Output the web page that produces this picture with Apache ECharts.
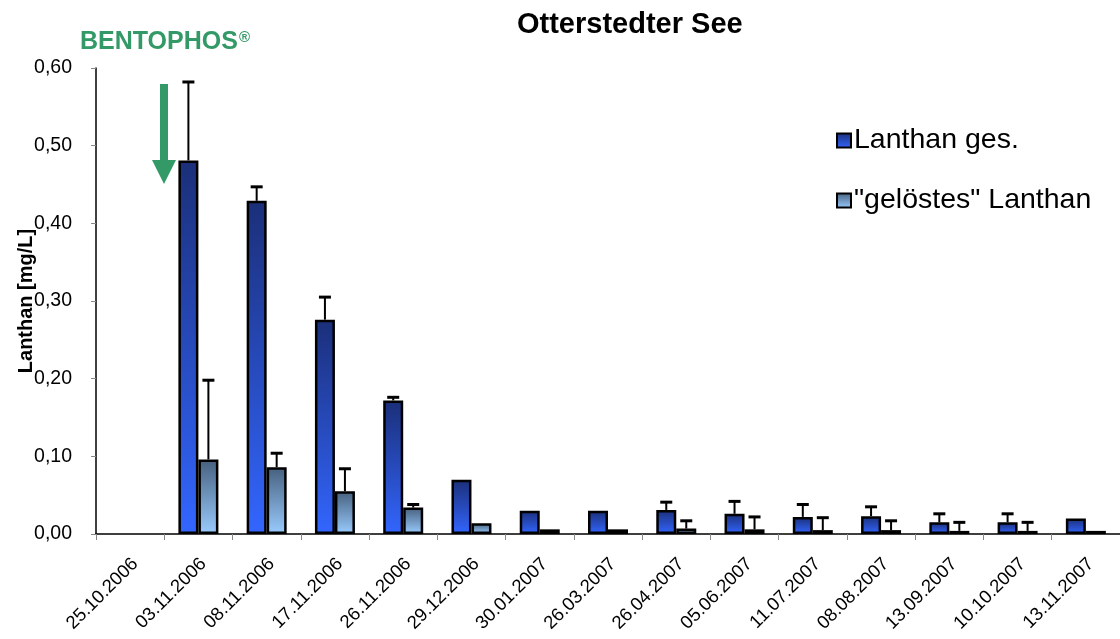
<!DOCTYPE html>
<html>
<head>
<meta charset="utf-8">
<script src="https://cdn.jsdelivr.net/npm/echarts@6/dist/echarts.min.js"></script>
<style>
  html, body { margin: 0; padding: 0; background: #fff; }
  #chart { width: 1120px; height: 639px; }
</style>
</head>
<body>
<div id="chart"></div>
<script>
// Sampling dates
const categories = ['25.10.2006', '03.11.2006', '08.11.2006', '17.11.2006', '26.11.2006',
  '29.12.2006', '30.01.2007', '26.03.2007', '26.04.2007', '05.06.2007', '11.07.2007',
  '08.08.2007', '13.09.2007', '10.10.2007', '13.11.2007'];

// Total lanthanum [mg/L] and its standard deviation
const lanthanGes = [null, 0.481, 0.429, 0.276, 0.172, 0.070, 0.030, 0.030, 0.031, 0.026, 0.022, 0.023, 0.015, 0.015, 0.020];
const lanthanGesErr = [0, 0.101, 0.018, 0.029, 0.004, 0, 0, 0, 0.010, 0.016, 0.016, 0.012, 0.011, 0.011, 0];

// "Dissolved" lanthanum [mg/L] and its standard deviation
const lanthanGeloest = [null, 0.096, 0.086, 0.055, 0.034, 0.014, 0.006, 0.006, 0.007, 0.006, 0.005, 0.005, 0.004, 0.004, 0.004];
const lanthanGeloestErr = [0, 0.102, 0.018, 0.029, 0.004, 0, 0, 0, 0.010, 0.016, 0.016, 0.012, 0.011, 0.011, 0];

const yTicks = [0, 0.1, 0.2, 0.3, 0.4, 0.5, 0.6];

const FONT = '"Liberation Sans", Arial, sans-serif';
const BAR_W = 20;
const CAP = 6;

const gradGes = new echarts.graphic.LinearGradient(0, 0, 0, 1, [
  { offset: 0, color: '#1b2f79' },
  { offset: 1, color: '#3366ff' }
]);
const gradGeloest = new echarts.graphic.LinearGradient(0, 0, 0, 1, [
  { offset: 0, color: '#46607e' },
  { offset: 1, color: '#9accff' }
]);

// Upward-only error bars centred on the left (-1) or right (+1) bar of each pair
function errorBars(side) {
  return function (params, api) {
    const v = api.value(1);
    const e = api.value(2);
    if (v == null || isNaN(v) || !e) return;
    const base = api.coord([api.value(0), v]);
    const top = api.coord([api.value(0), v + e]);
    const x = base[0] + side * BAR_W / 2;
    return {
      type: 'group',
      children: [
        { type: 'line', shape: { x1: x, y1: base[1], x2: x, y2: top[1] }, style: { stroke: '#000', lineWidth: 2 } },
        { type: 'line', shape: { x1: x - CAP, y1: top[1], x2: x + CAP, y2: top[1] }, style: { stroke: '#000', lineWidth: 3 } }
      ]
    };
  };
}

const chart = echarts.init(document.getElementById('chart'));
chart.setOption({
  animation: false,
  backgroundColor: '#fff',
  textStyle: { fontFamily: FONT },
  title: {
    text: 'Otterstedter See',
    left: 512,
    top: 5,
    textStyle: { fontFamily: FONT, fontSize: 29, fontWeight: 'bold', color: '#000' }
  },
  legend: {
    orient: 'vertical',
    left: 831,
    top: 121,
    itemGap: 31,
    itemWidth: 14,
    itemHeight: 14,
    icon: 'rect',
    data: ['Lanthan ges.', '"gelöstes" Lanthan'],
    textStyle: { fontFamily: FONT, fontSize: 28.5, color: '#000', padding: [0, 0, 0, -2] }
  },
  grid: { left: 96, right: 0, top: 68, bottom: 105, containLabel: false, outerBoundsMode: 'none' },
  xAxis: {
    type: 'category',
    data: categories,
    axisLine: { lineStyle: { color: '#000', width: 1.5 } },
    axisTick: { show: true, length: 6, lineStyle: { color: '#888' } },
    axisLabel: {
      rotate: 45, fontFamily: FONT, fontSize: 18.5, color: '#000', margin: 32, interval: 0,
      padding: [0, -7, 0, 0]
    }
  },
  yAxis: {
    type: 'value',
    min: yTicks[0],
    max: yTicks[yTicks.length - 1],
    interval: 0.1,
    name: 'Lanthan [mg/L]',
    nameLocation: 'middle',
    nameGap: 60,
    nameMoveOverlap: false,
    nameTextStyle: { fontFamily: FONT, fontSize: 20, fontWeight: 'bold', color: '#000' },
    splitLine: { show: false },
    axisLine: { show: true, lineStyle: { color: '#000', width: 1.5 } },
    axisTick: { show: true, length: 5, lineStyle: { color: '#888' } },
    axisLabel: {
      fontFamily: FONT, fontSize: 19.5, color: '#000', margin: 24,
      formatter: v => v.toFixed(2).replace('.', ',')
    }
  },
  series: [
    {
      name: 'Lanthan ges.',
      type: 'bar',
      data: lanthanGes,
      barWidth: BAR_W,
      barGap: '0%',
      itemStyle: { color: gradGes, borderColor: '#000', borderWidth: 2.5 }
    },
    {
      name: '"gelöstes" Lanthan',
      type: 'bar',
      data: lanthanGeloest,
      barWidth: BAR_W,
      barGap: '0%',
      itemStyle: { color: gradGeloest, borderColor: '#000', borderWidth: 2.5 }
    },
    {
      name: 'err-ges',
      type: 'custom',
      z: 5,
      renderItem: errorBars(-1),
      data: categories.map((c, i) => [i, lanthanGes[i], lanthanGesErr[i]])
    },
    {
      name: 'err-geloest',
      type: 'custom',
      z: 5,
      renderItem: errorBars(1),
      data: categories.map((c, i) => [i, lanthanGeloest[i], lanthanGeloestErr[i]])
    }
  ],
  graphic: [
    {
      type: 'text',
      left: 80,
      top: 30,
      style: {
        text: '{b|BENTOPHOS}{r|®}',
        rich: {
          b: { fontFamily: FONT, fontSize: 25, fontWeight: 'bold', fill: '#339966' },
          r: { fontFamily: FONT, fontSize: 15, fontWeight: 'bold', fill: '#339966', verticalAlign: 'top', padding: [0, 0, 10, 1] }
        }
      }
    },
    {
      // treatment marker arrow
      type: 'polygon',
      shape: { points: [[160, 84], [168, 84], [168, 160], [176, 160], [164, 184], [152, 160], [160, 160]] },
      style: { fill: '#339966' }
    }
  ]
});
</script>
</body>
</html>
